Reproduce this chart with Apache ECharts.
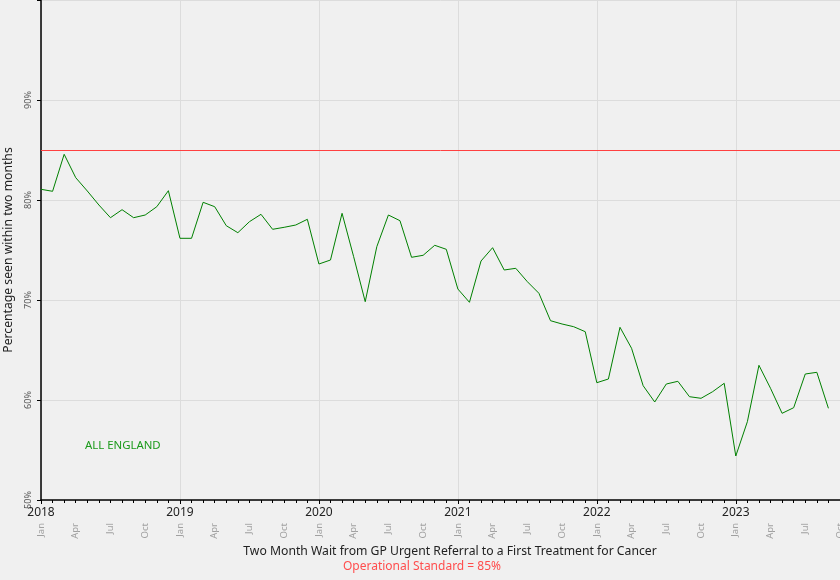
<!DOCTYPE html>
<html>
<head>
<meta charset="utf-8">
<script src="https://cdn.jsdelivr.net/npm/echarts@6/dist/echarts.min.js"></script>
<style>html,body{margin:0;padding:0;background:#f0f0f0}#c{width:840px;height:580px}</style>
</head>
<body>
<div id="c"></div>
<script>
// Monthly values from Jan 2018 (index 0) to Sep 2023
const values = [
  81.07, 80.87, 84.57, 82.23, 80.9, 79.5, 78.23, 79.03, 78.23, 78.5, 79.33, 80.93,
  76.17, 76.17, 79.77, 79.33, 77.43, 76.73, 77.83, 78.57, 77.07, 77.27, 77.5, 78.07,
  73.6, 74.0, 78.67, 74.33, 69.83, 75.33, 78.5, 77.93, 74.27, 74.47, 75.47, 75.07,
  71.1, 69.77, 73.9, 75.23, 73.0, 73.17, 71.83, 70.67, 67.93, 67.6, 67.33, 66.83,
  61.73, 62.1, 67.27, 65.17, 61.43, 59.8, 61.6, 61.87, 60.33, 60.17, 60.83, 61.67,
  54.4, 57.83, 63.47, 61.17, 58.67, 59.23, 62.6, 62.77, 59.17
];
const startYear = 2018;
const monthNames = ['Jan','Feb','Mar','Apr','May','Jun','Jul','Aug','Sep','Oct','Nov','Dec'];
const standard = 85;
const seriesName = 'ALL ENGLAND';
const xTitle = 'Two Month Wait from GP Urgent Referral to a First Treatment for Cancer';
const subTitle = 'Operational Standard = 85%';
const yTitle = 'Percentage seen within two months';

const data = values.map((v, i) => [i, v]);
const xMax = 69; // Oct 2023

const chart = echarts.init(document.getElementById('c'));
const baseX = {type: 'value', min: 0, max: xMax, position: 'bottom', gridIndex: 0};
chart.setOption({
  backgroundColor: '#f0f0f0',
  animation: false,
  textStyle: {fontFamily: 'Noto Sans'},
  grid: {left: 41, right: 0, top: 0, bottom: 80, outerBoundsMode: 'none', containLabel: false},
  title: [
    {text: seriesName, left: 80, top: 435, textStyle: {color: '#1a9a1a', fontSize: 11.4, fontWeight: 'normal', fontFamily: 'Noto Sans'}},
    {text: xTitle, left: 445, textAlign: 'center', top: 541, textStyle: {color: '#222', fontSize: 12.2, fontWeight: 'normal', fontFamily: 'Noto Sans'}},
    {text: subTitle, left: 417, textAlign: 'center', top: 556, textStyle: {color: '#ff4d4d', fontSize: 12, fontWeight: 'normal', fontFamily: 'Noto Sans'}}
  ],
  xAxis: [
    Object.assign({}, baseX, {
      interval: 12,
      axisLine: {show: true, onZero: false, lineStyle: {color: '#000', width: 1.5}},
      axisTick: {show: true, length: 4, lineStyle: {color: '#000'}},
      splitLine: {show: true, lineStyle: {color: '#dcdcdc', width: 1}},
      axisLabel: {margin: 7, color: '#222', fontSize: 12, fontFamily: 'Noto Sans',
        formatter: v => (v % 12 === 0 ? String(startYear + v / 12) : '')}
    }),
    Object.assign({}, baseX, {
      interval: 1,
      axisLine: {show: false},
      axisTick: {show: true, length: 3, lineStyle: {color: '#000'}},
      splitLine: {show: false},
      axisLabel: {show: false}
    }),
    Object.assign({}, baseX, {
      interval: 3,
      axisLine: {show: false},
      axisTick: {show: false},
      splitLine: {show: false},
      axisLabel: {margin: 23, rotate: 90, color: '#a0a0a0', fontSize: 9.5, fontFamily: 'Noto Sans',
        formatter: v => monthNames[v % 12]}
    })
  ],
  yAxis: {
    type: 'value', min: 50, max: 100, interval: 10,
    name: yTitle, nameLocation: 'middle', nameGap: 26,
    nameTextStyle: {color: '#222', fontSize: 12.2, fontFamily: 'Noto Sans'},
    axisLine: {show: true, lineStyle: {color: '#000', width: 1.5}},
    axisTick: {show: true, length: 4, lineStyle: {color: '#000'}},
    splitLine: {show: true, lineStyle: {color: '#dcdcdc', width: 1}},
    axisLabel: {rotate: 90, margin: 8, color: '#555', fontSize: 9, fontFamily: 'Noto Sans',
      formatter: v => (v === 100 ? '' : v + '%')}
  },
  series: [{
    name: seriesName, type: 'line', data: data, xAxisIndex: 0,
    symbol: 'none', lineStyle: {color: '#008000', width: 1},
    markLine: {silent: true, symbol: ['none', 'none'], label: {show: false},
      lineStyle: {color: '#ff4040', type: 'solid', width: 1},
      data: [{yAxis: standard}]}
  }]
});
</script>
</body>
</html>
